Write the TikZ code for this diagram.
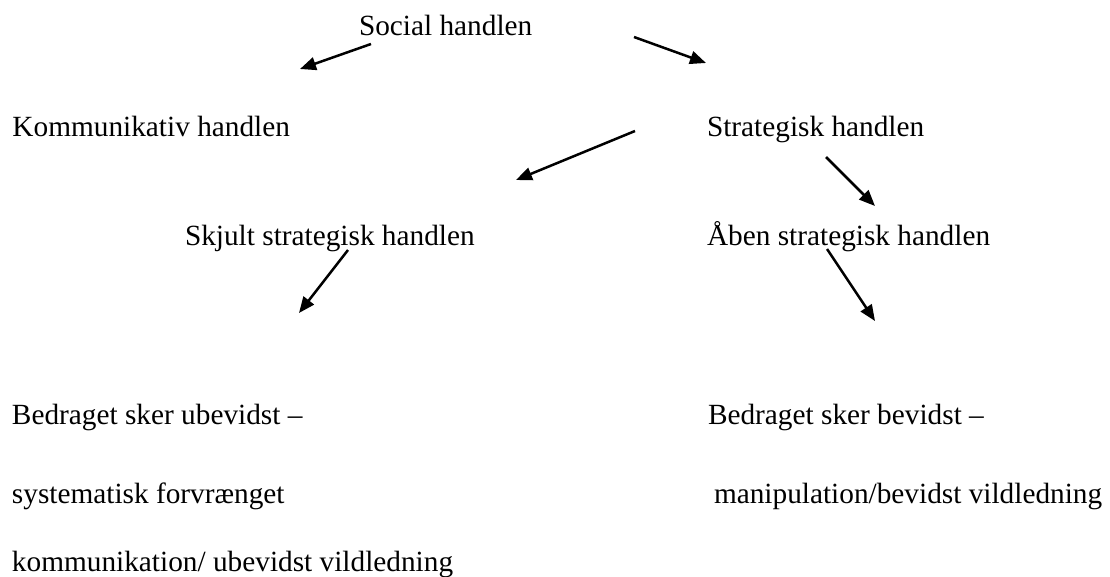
\documentclass[tikz,border=0pt]{standalone}
\usepackage{fontspec}
\setmainfont{Liberation Serif}
\usetikzlibrary{arrows.meta}
\tikzset{
  lbl/.style={anchor=base west, inner sep=0pt, outer sep=0pt, font=\fontsize{29.3}{35}\selectfont},
  arr/.style={line width=2.5pt, -{Triangle[length=16pt,width=13pt]}}
}
\begin{document}
\begin{tikzpicture}[x=1pt,y=-1pt]
\useasboundingbox[fill=white] (0,0) rectangle (1110,576);
\node[lbl] (soc) at (359,35) {Social handlen};
\node[lbl] (kom) at (12.5,136) {Kommunikativ handlen};
\node[lbl] (str) at (707,136) {Strategisk handlen};
\node[lbl] (skj) at (185,245) {Skjult strategisk handlen};
\node[lbl] (abe) at (707,245) {Åben strategisk handlen};
\node[lbl] (ub1) at (12,424) {Bedraget sker ubevidst –};
\node[lbl] (ub2) at (12,503) {systematisk forvrænget};
\node[lbl] (ub3) at (12,571) {kommunikation/ ubevidst vildledning};
\node[lbl] (be1) at (708,424) {Bedraget sker bevidst –};
\node[lbl] (be2) at (714,503) {manipulation/bevidst vildledning};
% arrow end points
\coordinate (a1s) at (371,44);  \coordinate (a1e) at (300,69);
\coordinate (a2s) at (634,37);  \coordinate (a2e) at (706,63);
\coordinate (a3s) at (635,131); \coordinate (a3e) at (516,180);
\coordinate (a4s) at (826,157); \coordinate (a4e) at (875,206);
\coordinate (a5s) at (348,250); \coordinate (a5e) at (299,313);
\coordinate (a6s) at (827,249); \coordinate (a6e) at (875,321);
\draw[arr] (a1s) -- (a1e);
\draw[arr] (a2s) -- (a2e);
\draw[arr] (a3s) -- (a3e);
\draw[arr] (a4s) -- (a4e);
\draw[arr] (a5s) -- (a5e);
\draw[arr] (a6s) -- (a6e);
\end{tikzpicture}
\end{document}
